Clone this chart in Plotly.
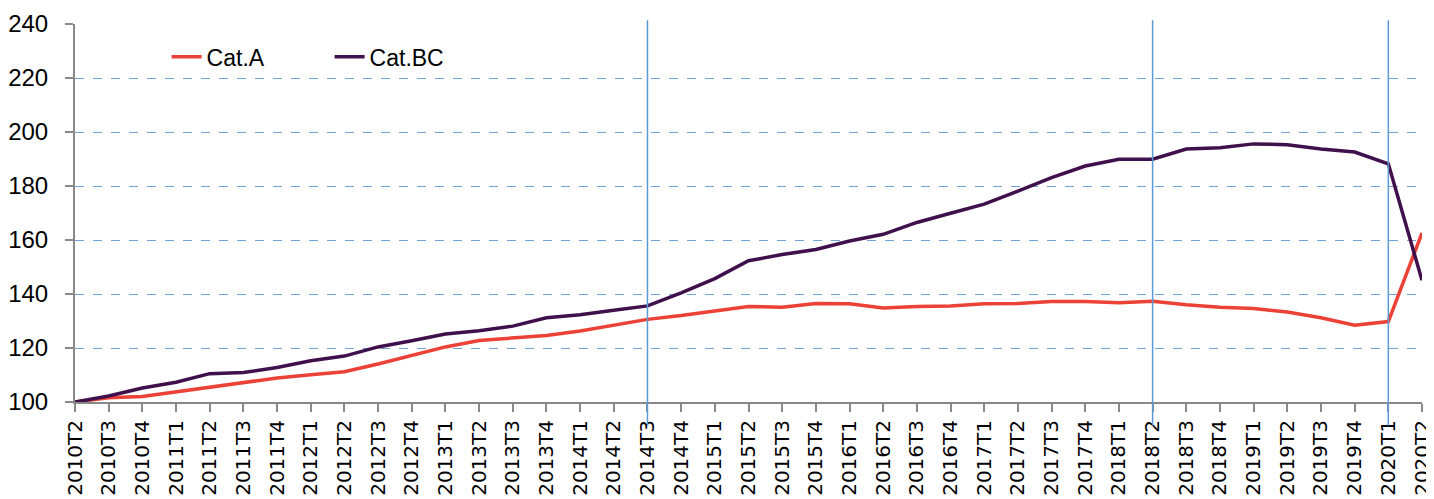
import plotly.graph_objects as go

quarters = ["2010T2","2010T3","2010T4","2011T1","2011T2","2011T3","2011T4","2012T1","2012T2","2012T3",
            "2012T4","2013T1","2013T2","2013T3","2013T4","2014T1","2014T2","2014T3","2014T4","2015T1",
            "2015T2","2015T3","2015T4","2016T1","2016T2","2016T3","2016T4","2017T1","2017T2","2017T3",
            "2017T4","2018T1","2018T2","2018T3","2018T4","2019T1","2019T2","2019T3","2019T4","2020T1","2020T2"]

cat_a = [100.0, 101.6, 102.0, 103.8, 105.3, 107.2, 108.9, 110.1, 111.2, 114.1,
         117.2, 120.4, 122.8, 123.6, 124.6, 126.3, 128.3, 130.6, 132.0, 133.7,
         135.4, 135.1, 136.5, 136.4, 134.8, 135.4, 135.6, 136.4, 136.5, 137.2,
         137.2, 136.8, 137.3, 136.0, 135.1, 134.6, 133.3, 131.2, 128.4, 129.8, 162.6]

cat_bc = [100.0, 102.2, 105.2, 107.3, 110.5, 110.9, 112.8, 115.3, 117.0, 120.4,
          122.7, 125.2, 126.4, 128.1, 131.2, 132.3, 134.0, 135.6, 140.4, 145.7,
          152.3, 154.6, 156.5, 159.6, 162.1, 166.5, 169.9, 173.3, 178.1, 183.1,
          187.4, 189.9, 189.9, 193.7, 194.2, 195.6, 195.3, 193.7, 192.6, 188.2, 145.1]

marker_quarters = ["2014T3", "2018T2", "2020T1"]
y_ticks = [100, 120, 140, 160, 180, 200, 220, 240]

fig = go.Figure()
fig.add_trace(go.Scatter(x=quarters, y=cat_a, mode="lines", name="Cat.A",
                         line=dict(color="#EB4136", width=3.5)))
fig.add_trace(go.Scatter(x=quarters, y=cat_bc, mode="lines", name="Cat.BC",
                         line=dict(color="#40104C", width=3.5)))

for q in marker_quarters:
    fig.add_shape(type="line", xref="x", yref="paper", x0=q, x1=q, y0=-0.062, y1=1.01,
                  line=dict(color="#5B9BD5", width=1.5), layer="above")

# page body has an 8px margin, so the figure is sized/offset to compensate
fig.update_layout(
    width=1426, height=491,
    margin=dict(l=67, r=12, t=16, b=97),
    paper_bgcolor="white", plot_bgcolor="white",
    font=dict(family="Liberation Sans", color="#000000"),
    showlegend=True,
    legend=dict(orientation="h", x=0.068, y=0.913, xanchor="left", yanchor="middle",
                font=dict(size=23, family="Liberation Sans"),
                entrywidth=118, entrywidthmode="pixels",
                bgcolor="rgba(0,0,0,0)"),
)
fig.update_xaxes(
    type="category", range=[0, len(quarters) - 1], automargin=False,
    tickangle=-90, tickfont=dict(family="DejaVu Sans", size=20),
    showgrid=False, showline=True, linecolor="#898989", linewidth=2,
    ticks="outside", ticklen=8, tickcolor="#898989", tickwidth=1.5,
    ticklabelstandoff=0,
)
fig.update_yaxes(
    range=[100, 240], tickvals=y_ticks, automargin=False,
    tickfont=dict(family="Liberation Sans", size=24),
    showgrid=True, gridcolor="#6FA4DA", griddash="dash", gridwidth=1,
    showline=True, linecolor="#898989", linewidth=2,
    ticks="outside", ticklen=8, tickcolor="#898989", tickwidth=1.5,
    ticklabelstandoff=12, zeroline=False,
)

fig.write_html("out.html")
